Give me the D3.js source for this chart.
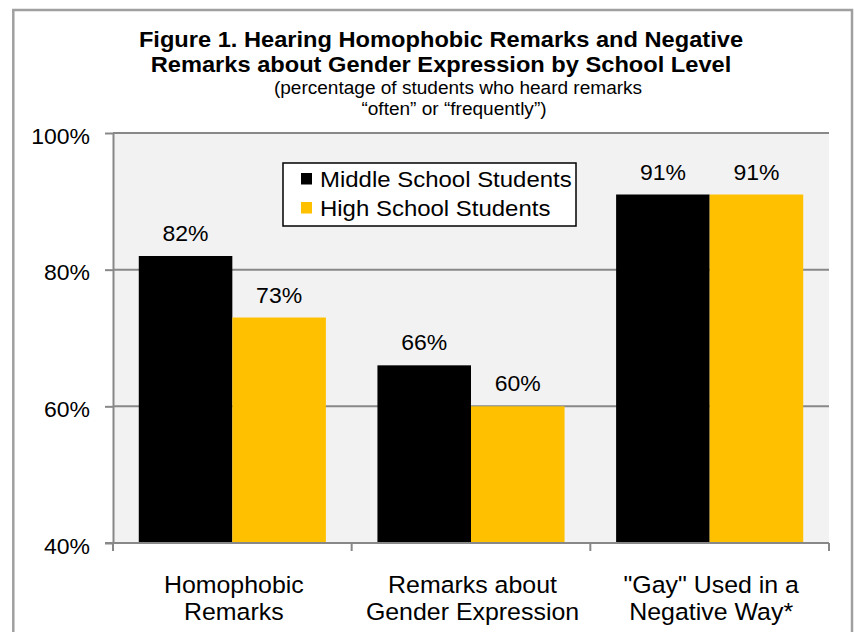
<!DOCTYPE html>
<html>
<head>
<meta charset="utf-8">
<script src="https://cdn.jsdelivr.net/npm/d3@7"></script>
<style>
  html, body { margin: 0; padding: 0; background: #fff; }
  svg { display: block; }
  text { font-family: "Liberation Sans", Arial, sans-serif; fill: #000; }
</style>
</head>
<body>
<svg id="chart" width="855" height="632"></svg>
<script>
// chart data
const categories = [
  ['Homophobic', 'Remarks'],
  ['Remarks about', 'Gender Expression'],
  ['"Gay" Used in a', 'Negative Way*']
];
const seriesNames = ['Middle School Students', 'High School Students'];
const middleSchool = [82, 66, 91];
const highSchool = [73, 60, 91];
const yTicks = [40, 60, 80, 100];
const titleLines = [
  'Figure 1. Hearing Homophobic  Remarks and Negative',
  'Remarks about Gender Expression by School Level'
];
const subtitleLines = [
  '(percentage of students who heard remarks',
  '\u201coften\u201d or \u201cfrequently\u201d)'
];

const colors = ['#000000', '#FFC000'];
const gridColor = '#888888';
// the reference text is a bit wider than Arial, stretch it a little
const SX = 1.07;

const svg = d3.select('#chart');
const plot = { left: 113, right: 829, top: 133, bottom: 543 };

// outer frame
svg.append('rect')
  .attr('x', 13.3).attr('y', 10)
  .attr('width', 838.7).attr('height', 660)
  .attr('fill', '#fff')
  .attr('stroke', '#a0a0a0')
  .attr('stroke-width', 2.5);

function putText(x, y, str, size, anchor, weight) {
  return svg.append('text')
    .attr('transform', `translate(${x},${y}) scale(${SX},1)`)
    .attr('text-anchor', anchor || 'middle')
    .attr('font-size', size)
    .attr('font-weight', weight || 'normal')
    .text(str);
}

// titles
putText(441, 47, titleLines[0], 22.1, 'middle', 'bold');
putText(441, 72, titleLines[1], 22.1, 'middle', 'bold');
putText(458, 94, subtitleLines[0], 17.8);
putText(454, 115, subtitleLines[1], 17.8);

// scales
const y = d3.scaleLinear().domain([40, 100]).range([plot.bottom, plot.top]);
const x0 = d3.scaleBand().domain(d3.range(categories.length))
  .range([plot.left, plot.right]).paddingInner(0).paddingOuter(0);
const gap = x0.bandwidth() * 0.216;
const x1 = d3.scaleBand().domain(d3.range(seriesNames.length))
  .range([gap / 2, x0.bandwidth() - gap / 2]);

// plot background
svg.append('rect')
  .attr('x', plot.left).attr('y', plot.top)
  .attr('width', plot.right - plot.left)
  .attr('height', plot.bottom - plot.top)
  .attr('fill', '#f2f2f2');

// gridlines
svg.append('g').selectAll('line')
  .data(yTicks.filter(d => d !== 40))
  .join('line')
  .attr('x1', plot.left).attr('x2', plot.right)
  .attr('y1', d => y(d)).attr('y2', d => y(d))
  .attr('stroke', gridColor)
  .attr('stroke-width', 2);

// bars
const seriesValues = [middleSchool, highSchool];
const groups = svg.append('g').selectAll('g')
  .data(categories.map((c, i) => i))
  .join('g')
  .attr('transform', i => `translate(${x0(i)},0)`);

groups.selectAll('rect')
  .data(i => seriesValues.map((vals, s) => ({ s: s, v: vals[i] })))
  .join('rect')
  .attr('x', d => x1(d.s))
  .attr('y', d => y(d.v))
  .attr('width', x1.bandwidth())
  .attr('height', d => y(40) - y(d.v))
  .attr('fill', d => colors[d.s]);

// data labels
categories.forEach((c, i) => {
  seriesValues.forEach((vals, s) => {
    const cx = x0(i) + x1(s) + x1.bandwidth() / 2;
    putText(cx, y(vals[i]) - 15, vals[i] + '%', 21.5);
  });
});

// left axis
const yAxis = d3.axisLeft(y)
  .tickValues(yTicks)
  .tickSize(8)
  .tickSizeOuter(0)
  .tickFormat(d => d + '%');
const ya = svg.append('g')
  .attr('transform', `translate(${plot.left},0)`)
  .call(yAxis);
ya.select('.domain').attr('stroke', gridColor).attr('stroke-width', 2);
ya.selectAll('.tick line').attr('stroke', gridColor).attr('stroke-width', 2);
ya.selectAll('.tick text').remove();
yTicks.forEach(t => {
  putText(90, y(t) + 10.5, t + '%', 21.5, 'end');
});

// bottom axis
svg.append('line')
  .attr('x1', plot.left - 8).attr('x2', plot.right)
  .attr('y1', plot.bottom).attr('y2', plot.bottom)
  .attr('stroke', gridColor).attr('stroke-width', 2);
const bounds = x0.domain().map(i => x0(i)).concat([plot.right]);
svg.append('g').selectAll('line')
  .data(bounds)
  .join('line')
  .attr('x1', d => d).attr('x2', d => d)
  .attr('y1', plot.bottom).attr('y2', plot.bottom + 8)
  .attr('stroke', gridColor).attr('stroke-width', 2);

// category labels
categories.forEach((lines, i) => {
  const cx = x0(i) + x0.bandwidth() / 2 + 1.5;
  lines.forEach((ln, k) => {
    putText(cx, 593 + k * 27, ln, 23.3);
  });
});

// legend
const legend = svg.append('g');
legend.append('rect')
  .attr('x', 283).attr('y', 163)
  .attr('width', 293).attr('height', 63)
  .attr('fill', '#fff')
  .attr('stroke', '#000')
  .attr('stroke-width', 1.5);
seriesNames.forEach((name, s) => {
  const ry = 179 + s * 29;
  legend.append('rect')
    .attr('x', 301).attr('y', ry - 6)
    .attr('width', 11).attr('height', 11.5)
    .attr('fill', colors[s]);
  putText(320, ry + 7.5, name, 22.4, 'start');
});
</script>
</body>
</html>
